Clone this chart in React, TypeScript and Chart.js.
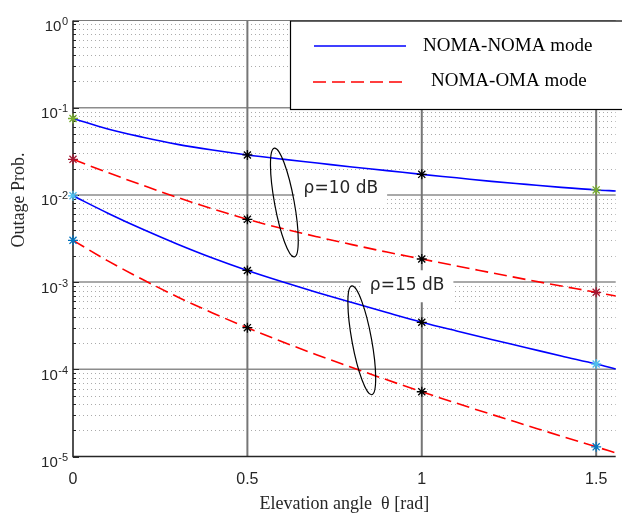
import React, { useEffect, useRef } from "react";
import { Chart, registerables } from "chart.js";

Chart.register(...registerables);

// ---------- data ----------
const X_VALUES = [0, 0.1, 0.2, 0.3, 0.4, 0.5, 0.6, 0.7, 0.8, 0.9, 1.0, 1.1, 1.2, 1.3, 1.4, 1.5, 1.556];
const NOMA_NOMA_10 = [0.0752, 0.0569, 0.0459, 0.038, 0.0327, 0.0287, 0.0257, 0.0232, 0.0209, 0.019, 0.0172, 0.0157, 0.0143, 0.0132, 0.0122, 0.0114, 0.0111];
const NOMA_OMA_10 = [0.0256, 0.018, 0.0129, 0.00933, 0.00692, 0.00525, 0.00412, 0.00331, 0.00269, 0.00221, 0.00184, 0.00153, 0.00128, 0.00107, 0.000902, 0.000764, 0.000692];
const NOMA_NOMA_15 = [0.00977, 0.00617, 0.00403, 0.00272, 0.00189, 0.00136, 0.00101, 0.000762, 0.000582, 0.000447, 0.000346, 0.000275, 0.00022, 0.000177, 0.000142, 0.000115, 0.000101];
const NOMA_OMA_15 = [0.00301, 0.00175, 0.00107, 0.000675, 0.000443, 0.0003, 0.000207, 0.000146, 0.000105, 0.0000757, 0.0000553, 0.0000408, 0.0000304, 0.0000228, 0.0000171, 0.0000129, 0.000011];

const MARKER_X = [0, 0.5, 1, 1.5];
const MARKERS_NN10 = ["#77AC30", "#000000", "#000000", "#77AC30"];
const MARKERS_NO10 = ["#A2142F", "#000000", "#000000", "#A2142F"];
const MARKERS_NN15 = ["#4DBEEE", "#000000", "#000000", "#4DBEEE"];
const MARKERS_NO15 = ["#0072BD", "#000000", "#000000", "#0072BD"];

const X_MIN = 0;
const X_MAX = 1.556;
const X_TICKS = [0, 0.5, 1, 1.5];
const X_TICK_LABELS = ["0", "0.5", "1", "1.5"];
const Y_MIN = 1e-5;
const Y_MAX = 1;
const Y_EXPONENTS = [0, -1, -2, -3, -4, -5];

const LEGEND_LABELS = ["NOMA-NOMA mode", "NOMA-OMA mode"];
const X_TITLE = "Elevation angle  \u03b8 [rad]";
const Y_TITLE = "Outage Prob.";

const TEXT_NOTES = [
  { label: "\u03c1=10 dB", x: 0.768, y: 0.0118 },
  { label: "\u03c1=15 dB", x: 0.958, y: 0.00092 },
];
const ELLIPSES = [
  { x: 0.606, y: 0.00818 },
  { x: 0.828, y: 0.000215 },
];

// ---------- helpers ----------
const points = (vals: number[]) => X_VALUES.map((x, i) => ({ x, y: vals[i] }));
const markerIdx = (x: number) => MARKER_X.findIndex((m) => Math.abs(m - x) < 1e-9);

function makeDataset(vals: number[], color: string, dashed: boolean, markers: string[]) {
  return {
    data: points(vals),
    borderColor: color,
    borderWidth: 1.6,
    borderDash: dashed ? [13, 6] : [],
    cubicInterpolationMode: "monotone" as const,
    fill: false,
    clip: false,
    pointStyle: "star" as const,
    pointRadius: (ctx: any) => (ctx.raw && markerIdx(ctx.raw.x) >= 0 ? 5 : 0),
    pointHoverRadius: 0,
    pointBorderWidth: 1.3,
    pointBorderColor: (ctx: any) => {
      const k = ctx.raw ? markerIdx(ctx.raw.x) : -1;
      return k >= 0 ? markers[k] : color;
    },
    pointBackgroundColor: "transparent",
  };
}

const SANS = '"Liberation Sans", Arial, sans-serif';
const SERIF = '"Liberation Serif", "Times New Roman", serif';

const matlabPlugin = {
  id: "matlabLook",
  beforeDatasetsDraw(chart: any) {
    const { ctx, chartArea, scales } = chart;
    const { left, right, top, bottom } = chartArea;
    const xs = scales.x;
    const ys = scales.y;
    ctx.save();
    // minor dotted grid
    ctx.strokeStyle = "#ababab";
    ctx.lineWidth = 1;
    ctx.setLineDash([1, 3]);
    for (let e = -5; e < 0; e++) {
      for (let m = 2; m <= 9; m++) {
        const py = Math.round(ys.getPixelForValue(m * Math.pow(10, e))) + 0.5;
        ctx.beginPath();
        ctx.moveTo(left + 2, py);
        ctx.lineTo(right, py);
        ctx.stroke();
      }
    }
    ctx.setLineDash([]);
    // major horizontal grid
    ctx.strokeStyle = "#8c8c8c";
    ctx.lineWidth = 1.5;
    Y_EXPONENTS.forEach((e) => {
      if (e === 0 || e === -5) return;
      const py = ys.getPixelForValue(Math.pow(10, e));
      ctx.beginPath();
      ctx.moveTo(left, py);
      ctx.lineTo(right, py);
      ctx.stroke();
    });
    // major vertical grid
    ctx.strokeStyle = "#767676";
    ctx.lineWidth = 2;
    X_TICKS.forEach((t) => {
      if (t === 0) return;
      const px = xs.getPixelForValue(t);
      ctx.beginPath();
      ctx.moveTo(px, top);
      ctx.lineTo(px, bottom);
      ctx.stroke();
    });
    // text notes with white background
    ctx.font = '17px "DejaVu Sans", sans-serif';
    ctx.textAlign = "center";
    ctx.textBaseline = "middle";
    TEXT_NOTES.forEach((n) => {
      const px = xs.getPixelForValue(n.x);
      const py = ys.getPixelForValue(n.y);
      const w = ctx.measureText(n.label).width + 18;
      const h = 32;
      ctx.fillStyle = "#ffffff";
      ctx.fillRect(px - w / 2, py - h / 2 + 1, w, h);
      ctx.fillStyle = "#262626";
      ctx.fillText(n.label, px, py);
    });
    // axes frame
    ctx.strokeStyle = "#7a7a7a";
    ctx.lineWidth = 1.2;
    ctx.beginPath();
    ctx.moveTo(left, top);
    ctx.lineTo(right, top);
    ctx.stroke();
    ctx.strokeStyle = "#262626";
    ctx.lineWidth = 1.6;
    ctx.beginPath();
    ctx.moveTo(left, top);
    ctx.lineTo(left, bottom);
    ctx.lineTo(right, bottom);
    ctx.stroke();
    // y ticks inside
    ctx.lineWidth = 1;
    for (let e = -5; e <= 0; e++) {
      for (let m = 1; m <= 9; m++) {
        const v = m * Math.pow(10, e);
        if (v > Y_MAX) break;
        const py = Math.round(ys.getPixelForValue(v)) + 0.5;
        const len = m === 1 ? 6 : 3;
        ctx.beginPath();
        ctx.moveTo(left, py);
        ctx.lineTo(left + len, py);
        ctx.stroke();
      }
    }
    ctx.restore();
  },
  afterDatasetsDraw(chart: any) {
    const { ctx, chartArea, scales } = chart;
    const { left, right, top, bottom } = chartArea;
    const xs = scales.x;
    const ys = scales.y;
    ctx.save();
    // ellipses
    ctx.strokeStyle = "#000000";
    ctx.lineWidth = 1.2;
    ELLIPSES.forEach((el) => {
      const px = xs.getPixelForValue(el.x);
      const py = ys.getPixelForValue(el.y);
      ctx.beginPath();
      ctx.ellipse(px, py, 9.8, 55.3, -0.182, 0, Math.PI * 2);
      ctx.stroke();
    });
    // legend box
    const lx = 290;
    const ly = top;
    const lb = 109;
    ctx.fillStyle = "#ffffff";
    ctx.fillRect(lx, ly, right + 10 - lx, lb - ly);
    ctx.strokeStyle = "#000000";
    ctx.lineWidth = 1.2;
    ctx.strokeRect(lx + 0.5, ly + 0.5, right + 10 - lx, lb - ly);
    ctx.lineWidth = 1.6;
    ctx.strokeStyle = "#0000ff";
    ctx.beginPath();
    ctx.moveTo(314, 46);
    ctx.lineTo(406, 46);
    ctx.stroke();
    ctx.strokeStyle = "#ff0000";
    ctx.setLineDash([13, 6]);
    ctx.beginPath();
    ctx.moveTo(313, 82);
    ctx.lineTo(404, 82);
    ctx.stroke();
    ctx.setLineDash([]);
    ctx.fillStyle = "#000000";
    ctx.font = "19px " + SERIF;
    ctx.textAlign = "left";
    ctx.textBaseline = "middle";
    ctx.fillText(LEGEND_LABELS[0], 423, 46);
    ctx.fillText(LEGEND_LABELS[1], 431, 81);

    // x tick labels
    ctx.fillStyle = "#262626";
    ctx.font = "16px " + SANS;
    ctx.textAlign = "center";
    ctx.textBaseline = "alphabetic";
    X_TICKS.forEach((t, i) => {
      ctx.fillText(X_TICK_LABELS[i], xs.getPixelForValue(t), bottom + 27);
    });
    // y tick labels with superscript
    Y_EXPONENTS.forEach((e) => {
      const py = ys.getPixelForValue(Math.pow(10, e));
      const exp = String(e);
      ctx.textAlign = "right";
      ctx.font = "11px " + SANS;
      const ew = ctx.measureText(exp).width;
      ctx.fillText(exp, left - 5, py + 4.5);
      ctx.font = "15px " + SANS;
      ctx.fillText("10", left - 5 - ew - 0.5, py + 10.5);
    });
    // titles
    ctx.fillStyle = "#262626";
    ctx.font = "18px " + SERIF;
    ctx.textAlign = "center";
    ctx.fillText(X_TITLE, (left + right) / 2, bottom + 52);
    ctx.save();
    ctx.translate(24, 200);
    ctx.rotate(-Math.PI / 2);
    ctx.textBaseline = "alphabetic";
    ctx.fillText(Y_TITLE, 0, 0);
    ctx.restore();
    ctx.restore();
  },
};

export default function App() {
  const ref = useRef<HTMLCanvasElement | null>(null);
  useEffect(() => {
    if (!ref.current) return;
    const chart = new Chart(ref.current, {
      type: "line",
      data: {
        datasets: [
          makeDataset(NOMA_NOMA_10, "#0000ff", false, MARKERS_NN10),
          makeDataset(NOMA_OMA_10, "#ff0000", true, MARKERS_NO10),
          makeDataset(NOMA_NOMA_15, "#0000ff", false, MARKERS_NN15),
          makeDataset(NOMA_OMA_15, "#ff0000", true, MARKERS_NO15),
        ] as any,
      },
      options: {
        animation: false,
        responsive: false,
        events: [],
        layout: { padding: { left: 73, top: 20.5, right: 0, bottom: 56.5 } },
        plugins: { legend: { display: false }, tooltip: { enabled: false } },
        scales: {
          x: { type: "linear", min: X_MIN, max: X_MAX, display: false },
          y: { type: "logarithmic", min: Y_MIN, max: Y_MAX, display: false },
        },
      },
      plugins: [matlabPlugin],
    });
    return () => chart.destroy();
  }, []);
  return (
    <div style={{ position: "absolute", left: 0, top: 0, width: 622, height: 513, background: "#fff" }}>
      <canvas ref={ref} width={622} height={513} style={{ display: "block" }} />
    </div>
  );
}
